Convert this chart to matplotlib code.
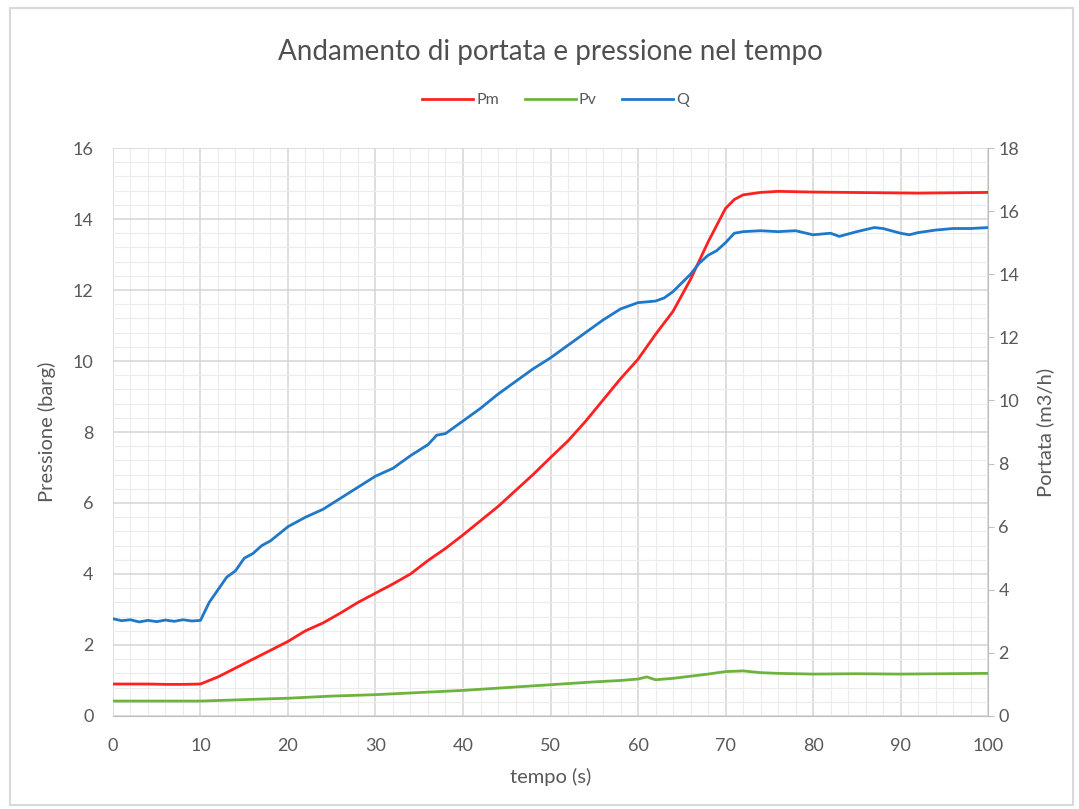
import matplotlib.pyplot as plt
from matplotlib.ticker import MultipleLocator

plt.rcParams['font.family'] = ['Lato', 'DejaVu Sans']

# Pm - pressione di mandata (barg)
t_pm = [0, 2, 4, 6, 8, 10, 12, 14, 16, 18, 20, 22, 24, 26, 28, 30, 32, 34, 36, 38, 40,
        42, 44, 46, 48, 50, 52, 54, 56, 58, 60, 62, 64, 66, 68, 70, 71, 72, 74, 76,
        80, 84, 88, 92, 96, 100]
pm = [0.9, 0.9, 0.9, 0.89, 0.89, 0.9, 1.1, 1.35, 1.6, 1.85, 2.1, 2.4, 2.62, 2.9, 3.2, 3.46,
      3.72, 4.0, 4.38, 4.72, 5.1, 5.5, 5.9, 6.35, 6.8, 7.28, 7.75, 8.3, 8.9, 9.5, 10.05,
      10.75, 11.4, 12.3, 13.35, 14.3, 14.55, 14.68, 14.75, 14.78, 14.76, 14.75, 14.74, 14.73,
      14.74, 14.75]

# Pv - pressione di aspirazione (barg)
t_pv = [0, 5, 10, 15, 20, 25, 30, 35, 40, 45, 50, 55, 58, 60, 61, 62, 64, 66, 68, 70, 72,
        74, 76, 80, 85, 90, 95, 100]
pv = [0.42, 0.42, 0.42, 0.46, 0.5, 0.56, 0.6, 0.66, 0.72, 0.8, 0.88, 0.96, 1.0, 1.04, 1.1,
      1.02, 1.06, 1.12, 1.18, 1.25, 1.27, 1.22, 1.2, 1.18, 1.19, 1.18, 1.19, 1.2]

# Q - portata (m3/h)
t_q = [0, 1, 2, 3, 4, 5, 6, 7, 8, 9, 10, 11, 12, 13, 14, 15, 16, 17, 18, 20, 22, 24, 26,
       28, 30, 32, 34, 36, 37, 38, 40, 42, 44, 46, 48, 50, 52, 54, 56, 58, 60, 62, 63, 64,
       66, 67, 68, 69, 70, 71, 72, 74, 76, 78, 80, 82, 83, 85, 87, 88, 90, 91, 92, 94, 96,
       98, 100]
q = [3.08, 3.02, 3.05, 2.98, 3.03, 2.99, 3.04, 3.0, 3.05, 3.01, 3.03, 3.6, 4.0, 4.4,
     4.6, 5.0, 5.15, 5.4, 5.55, 6.0, 6.3, 6.55, 6.9, 7.25, 7.6, 7.85, 8.25, 8.6, 8.9,
     8.95, 9.35, 9.75, 10.2, 10.6, 11.0, 11.35, 11.75, 12.15, 12.55, 12.9, 13.1, 13.15,
     13.25, 13.45, 14.0, 14.35, 14.6, 14.75, 15.0, 15.3, 15.35, 15.38, 15.35, 15.38, 15.25,
     15.3, 15.2, 15.35, 15.48, 15.45, 15.3, 15.25, 15.32, 15.4, 15.45, 15.45, 15.48]

grigio = '#595959'

fig = plt.figure(figsize=(10.79, 8.09), dpi=100)
ax = fig.add_axes([0.1047, 0.115, 0.811, 0.702])
ax2 = ax.twinx()

l1, = ax.plot(t_pm, pm, color='#ff2020', lw=2.0, label='Pm')
l2, = ax.plot(t_pv, pv, color='#6fb33f', lw=2.0, label='Pv')
l3, = ax2.plot(t_q, q, color='#1f78c8', lw=2.0, label='Q')

ax.set_xlim(0, 100)
ax.set_ylim(0, 16)
ax2.set_ylim(0, 18)
ax.xaxis.set_major_locator(MultipleLocator(10))
ax.xaxis.set_minor_locator(MultipleLocator(2))
ax.yaxis.set_major_locator(MultipleLocator(2))
ax.yaxis.set_minor_locator(MultipleLocator(0.4))
ax2.yaxis.set_major_locator(MultipleLocator(2))

ax.grid(which='major', color='#d4d4d4', lw=1.1)
ax.grid(which='minor', color='#ececec', lw=0.8)
ax.set_axisbelow(True)

for a in (ax, ax2):
    for s in a.spines.values():
        s.set_visible(False)
    a.tick_params(colors=grigio, labelsize=13, which='both', length=0)
ax.spines['bottom'].set_visible(True)
ax.spines['bottom'].set_color('#bfbfbf')
ax2.spines['right'].set_visible(True)
ax2.spines['right'].set_color('#bfbfbf')
ax2.tick_params(axis='y', length=4, color='#bfbfbf')
ax.tick_params(axis='x', pad=16)
ax.tick_params(axis='y', pad=14)

ax.set_xlabel('tempo (s)', color=grigio, fontsize=14.5, labelpad=10)
ax.set_ylabel('Pressione (barg)', color=grigio, fontsize=14.5, labelpad=12)
ax2.set_ylabel('Portata (m3/h)', color=grigio, fontsize=14.5, labelpad=12)

fig.text(0.51, 0.936, 'Andamento di portata e pressione nel tempo', ha='center',
         va='center', fontsize=20, color='#505050')
fig.legend(handles=[l1, l2, l3], loc='center', bbox_to_anchor=(0.515, 0.876), ncol=3,
           frameon=False, fontsize=11.5, labelcolor=grigio, handlelength=3.2,
           columnspacing=1.6, handletextpad=0.2)

fig.patches.append(plt.Rectangle((0.009, 0.005), 0.985, 0.985, transform=fig.transFigure,
                                 fill=False, edgecolor='#d9d9d9', lw=1.5))

fig.savefig('out.png', dpi=100)
